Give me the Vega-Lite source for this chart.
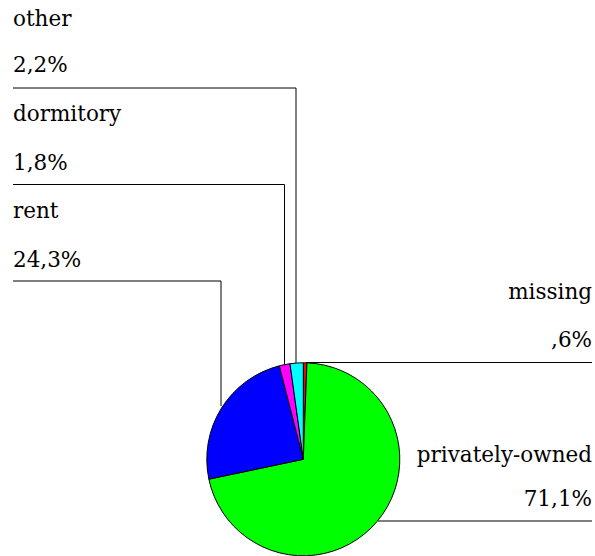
{
  "$schema": "https://vega.github.io/schema/vega-lite/v6.json",
  "width": 595,
  "height": 556,
  "padding": 0,
  "autosize": {"type": "none"},
  "background": "white",
  "config": {"view": {"stroke": null}},
  "datasets": {
    "slices": [
      {"category": "missing", "percent": 0.6, "k": 1},
      {"category": "privately-owned", "percent": 71.1, "k": 2},
      {"category": "rent", "percent": 24.3, "k": 3},
      {"category": "dormitory", "percent": 1.8, "k": 4},
      {"category": "other", "percent": 2.2, "k": 5}
    ],
    "leaders": [
      {"category": "other", "x": 13, "y": 88, "x2": 296, "y2": 88},
      {"category": "other", "x": 296, "y": 88, "x2": 296, "y2": 363},
      {"category": "dormitory", "x": 13, "y": 184.5, "x2": 284.5, "y2": 184.5},
      {"category": "dormitory", "x": 284.5, "y": 184.5, "x2": 284.5, "y2": 365},
      {"category": "rent", "x": 13, "y": 281, "x2": 221, "y2": 281},
      {"category": "rent", "x": 221, "y": 281, "x2": 221, "y2": 406},
      {"category": "missing", "x": 306, "y": 362.5, "x2": 592, "y2": 362.5},
      {"category": "privately-owned", "x": 378, "y": 521, "x2": 592, "y2": 521}
    ],
    "labels": [
      {"category": "other", "pct": "2,2%", "side": "left", "x": 13, "ny": 26, "py": 72},
      {"category": "dormitory", "pct": "1,8%", "side": "left", "x": 13, "ny": 121, "py": 170},
      {"category": "rent", "pct": "24,3%", "side": "left", "x": 13, "ny": 218, "py": 267},
      {"category": "missing", "pct": ",6%", "side": "right", "x": 592, "ny": 299, "py": 347},
      {"category": "privately-owned", "pct": "71,1%", "side": "right", "x": 592, "ny": 462, "py": 506}
    ]
  },
  "layer": [
    {
      "data": {"name": "leaders"},
      "mark": {"type": "rule", "color": "#000000", "strokeWidth": 1},
      "encoding": {
        "x": {"field": "x", "type": "quantitative", "scale": {"domain": [0, 595], "nice": false, "zero": false}, "axis": null},
        "y": {"field": "y", "type": "quantitative", "scale": {"domain": [556, 0], "nice": false, "zero": false}, "axis": null},
        "x2": {"field": "x2"},
        "y2": {"field": "y2"}
      }
    },
    {
      "data": {"name": "slices"},
      "mark": {"type": "arc", "outerRadius": 96.5, "stroke": "#000000", "strokeWidth": 1},
      "encoding": {
        "x": {"datum": 303.3, "type": "quantitative"},
        "y": {"datum": 459.3, "type": "quantitative"},
        "theta": {"field": "percent", "type": "quantitative", "stack": true},
        "order": {"field": "k", "type": "quantitative"},
        "color": {
          "field": "category",
          "type": "nominal",
          "legend": null,
          "scale": {
            "domain": ["missing", "privately-owned", "rent", "dormitory", "other"],
            "range": ["#ff0000", "#00ff00", "#0000ff", "#ff00ff", "#00ffff"]
          }
        }
      }
    },
    {
      "data": {"name": "labels"},
      "transform": [{"filter": "datum.side === 'left'"}],
      "mark": {"type": "text", "font": "DejaVu Serif", "fontSize": 21.5, "align": "left", "baseline": "alphabetic", "color": "#000000"},
      "encoding": {
        "x": {"field": "x", "type": "quantitative"},
        "y": {"field": "ny", "type": "quantitative"},
        "text": {"field": "category"}
      }
    },
    {
      "data": {"name": "labels"},
      "transform": [{"filter": "datum.side === 'left'"}],
      "mark": {"type": "text", "font": "DejaVu Serif", "fontSize": 21.5, "align": "left", "baseline": "alphabetic", "color": "#000000"},
      "encoding": {
        "x": {"field": "x", "type": "quantitative"},
        "y": {"field": "py", "type": "quantitative"},
        "text": {"field": "pct"}
      }
    },
    {
      "data": {"name": "labels"},
      "transform": [{"filter": "datum.side === 'right'"}],
      "mark": {"type": "text", "font": "DejaVu Serif", "fontSize": 21.5, "align": "right", "baseline": "alphabetic", "color": "#000000"},
      "encoding": {
        "x": {"field": "x", "type": "quantitative"},
        "y": {"field": "ny", "type": "quantitative"},
        "text": {"field": "category"}
      }
    },
    {
      "data": {"name": "labels"},
      "transform": [{"filter": "datum.side === 'right'"}],
      "mark": {"type": "text", "font": "DejaVu Serif", "fontSize": 21.5, "align": "right", "baseline": "alphabetic", "color": "#000000"},
      "encoding": {
        "x": {"field": "x", "type": "quantitative"},
        "y": {"field": "py", "type": "quantitative"},
        "text": {"field": "pct"}
      }
    }
  ]
}
